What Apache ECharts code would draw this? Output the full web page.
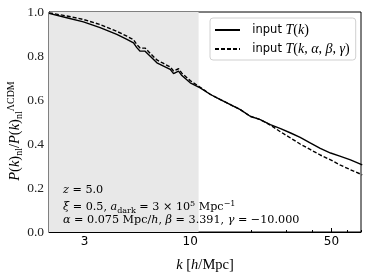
<!DOCTYPE html>
<html><head><meta charset="utf-8">
<script src="https://cdn.jsdelivr.net/npm/echarts@6/dist/echarts.min.js"></script>
<style>html,body{margin:0;padding:0;background:#fff}#c{width:374px;height:280px}</style>
</head><body><div id="c"></div>
<script>
const kValues = [2.0, 2.45, 2.96, 3.58, 4.33, 4.86, 5.24, 5.44, 5.65, 5.98, 6.34, 6.84, 7.38, 7.96, 8.27, 8.75, 9.09, 10.0, 11.2, 12.6, 14.1, 15.8, 17.7, 19.8, 22.2, 24.9, 28, 31.4, 35, 39.4, 44, 49.5, 55, 62.1, 71];
const ratioInput = [0.994, 0.974, 0.955, 0.929, 0.898, 0.876, 0.860, 0.838, 0.822, 0.822, 0.799, 0.769, 0.754, 0.739, 0.720, 0.731, 0.711, 0.678, 0.655, 0.625, 0.602, 0.579, 0.556, 0.526, 0.511, 0.488, 0.470, 0.450, 0.430, 0.404, 0.380, 0.359, 0.345, 0.328, 0.305];
const ratioParam = [0.996, 0.982, 0.966, 0.943, 0.912, 0.890, 0.874, 0.852, 0.836, 0.836, 0.812, 0.782, 0.766, 0.750, 0.732, 0.742, 0.722, 0.688, 0.658, 0.625, 0.602, 0.579, 0.556, 0.526, 0.511, 0.486, 0.455, 0.427, 0.400, 0.374, 0.350, 0.328, 0.305, 0.283, 0.260];
const xTickLabels = [3, 10, 50];
const xMinorTicks = [2, 4, 5, 6, 7, 8, 9, 20, 30, 40, 60, 70];
const xRange = [2, 70];
const yRange = [0, 1.0];
const yStep = 0.2;
const shadeRange = [2, 11];
const seriesNames = ['input T(k)', 'input T(k,α,β,γ)'];

const serif = 'Liberation Serif';
const serif2 = 'DejaVu Serif';
const sans = 'DejaVu Sans';
const chart = echarts.init(document.getElementById('c'));

const legendRich = {
  s: {fontFamily: sans, fontSize: 11.5, color: '#000'},
  i: {fontFamily: serif, fontStyle: 'italic', fontSize: 14, color: '#000'},
  r: {fontFamily: serif, fontSize: 14, color: '#000'}
};

const baseRich = {
  i: {fontFamily: serif, fontStyle: 'italic', fontSize: 14.5, color: '#000'},
  r: {fontFamily: serif, fontSize: 14.5, color: '#000'},
  sub: {fontFamily: serif, fontSize: 10, color: '#000', lineHeight: 10, padding: [8, 0, 0, 0]},
  sup: {fontFamily: serif, fontSize: 10, color: '#000', lineHeight: 10, padding: [0, 0, 7, 0]}
};
const annRich = {
  i: {fontFamily: serif2, fontStyle: 'italic', fontSize: 11.2, color: '#000'},
  r: {fontFamily: serif2, fontSize: 11.2, color: '#000'},
  sub: {fontFamily: serif2, fontSize: 8, color: '#000', lineHeight: 8, padding: [7, 0, 0, 0]},
  sup: {fontFamily: serif2, fontSize: 8, color: '#000', lineHeight: 8, padding: [0, 0, 7, 0]}
};

chart.setOption({
  animation: false,
  grid: {left: 49, right: 13, top: 12, bottom: 48, show: true, borderColor: '#000', borderWidth: 1, backgroundColor: 'transparent'},
  legend: {
    orient: 'vertical', left: 210, top: 18, width: 146,
    padding: [5, 6, 4, 4], itemGap: 5, itemWidth: 25, itemHeight: 10,
    backgroundColor: '#fff', borderColor: '#d0d0d0', borderWidth: 1, borderRadius: 3,
    itemStyle: {opacity: 0},
    data: seriesNames,
    formatter: function (n) {
      return n === seriesNames[0]
        ? '{s|  input }{i|T}{r|(}{i|k}{r|)}'
        : '{s|  input }{i|T}{r|(}{i|k}{r|, }{i|α}{r|, }{i|β}{r|, }{i|γ}{r|)}';
    },
    textStyle: {rich: legendRich}
  },
  xAxis: [{
    type: 'log', logBase: 10, min: xRange[0], max: xRange[1],
    axisLine: {show: true, lineStyle: {color: '#000', width: 1}},
    axisTick: {show: true, inside: true, length: 4, customValues: xTickLabels, lineStyle: {color: '#000'}},
    axisLabel: {show: true, customValues: xTickLabels, fontFamily: sans, fontSize: 12, color: '#000', margin: 4, formatter: v => String(Math.round(v))},
    splitLine: {show: false}, minorTick: {show: false}, minorSplitLine: {show: false}
  }, {
    type: 'log', logBase: 10, min: xRange[0], max: xRange[1], position: 'bottom',
    axisLine: {show: false},
    axisTick: {show: true, inside: true, length: 2, customValues: xMinorTicks, lineStyle: {color: '#000'}},
    axisLabel: {show: false}, splitLine: {show: false}
  }],
  yAxis: {
    type: 'value', min: yRange[0], max: yRange[1], interval: yStep,
    axisLine: {show: true, lineStyle: {color: '#000', width: 1}},
    axisTick: {show: true, inside: true, length: 3, lineStyle: {color: '#000'}},
    axisLabel: {fontFamily: serif, fontSize: 13.5, color: '#222', margin: 5, formatter: v => v.toFixed(1)},
    splitLine: {show: false}
  },
  series: [{
    name: seriesNames[0], type: 'line', xAxisIndex: 0, symbol: 'none', smooth: false,
    data: kValues.map((k, i) => [k, ratioInput[i]]),
    lineStyle: {color: '#000', width: 1.4, type: 'solid'},
    itemStyle: {color: '#000'}, z: 5,
    markArea: {silent: true, itemStyle: {color: '#e8e8e8'}, data: [[{xAxis: shadeRange[0]}, {xAxis: shadeRange[1]}]]}
  }, {
    name: seriesNames[1], type: 'line', xAxisIndex: 0, symbol: 'none', smooth: false,
    data: kValues.map((k, i) => [k, ratioParam[i]]),
    lineStyle: {color: '#000', width: 1.4, type: [4, 2]},
    itemStyle: {color: '#000'}, z: 4
  }],
  graphic: [
    {type: 'text', left: 63, top: 185, z: 10, style: {text: '{i|z}{r| = 5.0}', rich: annRich}},
    {type: 'text', left: 63, top: 200, z: 10, style: {text: '{i|ξ}{r| = 0.5, }{i|a}{sub|dark}{r| = 3 × 10}{sup|5}{r| Mpc}{sup|−1}', rich: annRich}},
    {type: 'text', left: 63, top: 215, z: 10, style: {text: '{i|α}{r| = 0.075 Mpc/}{i|h}{r|, }{i|β}{r| = 3.391, }{i|γ}{r| = −10.000}', rich: annRich}},
    {type: 'text', x: 205, y: 265, style: {text: '{i|k}{r| [}{i|h}{r|/Mpc]}', rich: baseRich, align: 'center', verticalAlign: 'middle'}},
    {type: 'text', x: 15, y: 131, rotation: Math.PI / 2, style: {text: '{i|P}{r|(}{i|k}{r|)}{sub|nl}{r|/}{i|P}{r|(}{i|k}{r|)}{sub|nl}{sup|ΛCDM}', rich: baseRich, align: 'center', verticalAlign: 'middle'}}
  ]
});
</script></body></html>
